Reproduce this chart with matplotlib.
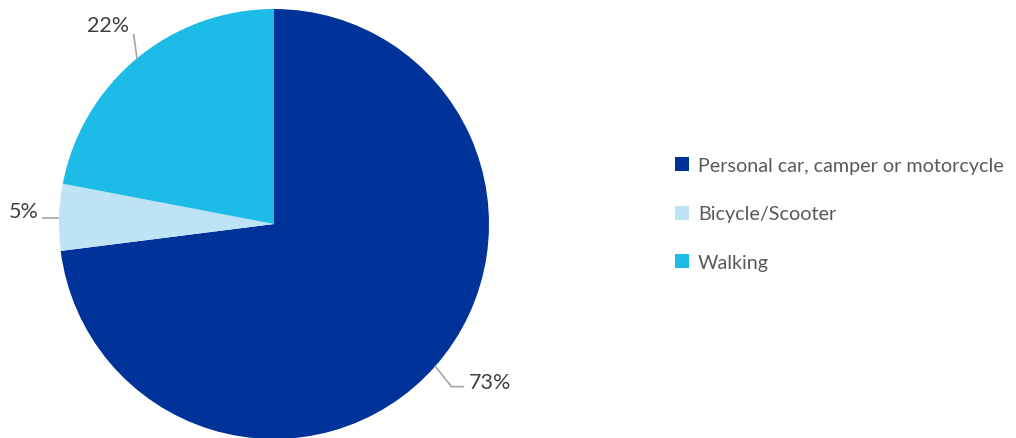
import numpy as np
import matplotlib
matplotlib.use("Agg")
import matplotlib.pyplot as plt
from matplotlib.patches import Rectangle

categories = ["Personal car, camper or motorcycle", "Bicycle/Scooter", "Walking"]
values = [73, 5, 22]
labels = ["73%", "5%", "22%"]
colors = ["#003399", "#BDE3F5", "#1DBBE8"]

plt.rcParams['font.family'] = ['Lato', 'DejaVu Sans']

W, H = 1016, 439
fig = plt.figure(figsize=(W / 100, H / 100), dpi=100)
cx, cy, R = 274, 225, 215
ax = fig.add_axes([(cx - R) / W, (H - cy - R) / H, 2 * R / W, 2 * R / H])
ax.set_aspect('equal')
ax.axis('off')

wedges, _ = ax.pie(values, colors=colors, startangle=90, counterclock=False,
                   radius=1, center=(0, 0), frame=False,
                   wedgeprops=dict(linewidth=0))
ax.set_xlim(-1, 1)
ax.set_ylim(-1, 1)

lead = "#A6A6A6"
tcol = "#404040"
fs = 15.5
# 73% label
w = wedges[0]
a = np.deg2rad((w.theta1 + w.theta2) / 2)
p0 = np.array([np.cos(a), np.sin(a)]) * 1.0
p1 = p0 + np.array([0.075, -0.095])
p2 = p1 + np.array([0.055, 0])
ax.plot([p0[0], p1[0], p2[0]], [p0[1], p1[1], p2[1]], color=lead, lw=1.2, clip_on=False)
ax.text(p2[0] + 0.025, p2[1] + 0.02, labels[0], ha='left', va='center', fontsize=fs, color=tcol)

# 5% label
p0 = np.array([-1.005, 0.03])
p1 = p0 + np.array([-0.07, 0])
ax.plot([p0[0], p1[0]], [p0[1], p1[1]], color=lead, lw=1.2, clip_on=False)
ax.text(p1[0] - 0.02, p1[1] + 0.03, labels[1], ha='right', va='center', fontsize=fs, color=tcol)

# 22% label
w = wedges[2]
a = np.deg2rad((w.theta1 + w.theta2) / 2)
p0 = np.array([np.cos(a), np.sin(a)]) * 1.0
p1 = p0 + np.array([-0.015, 0.11])
ax.plot([p0[0], p1[0]], [p0[1], p1[1]], color=lead, lw=1.2, clip_on=False)
ax.text(p1[0] - 0.02, p1[1] + 0.045, labels[2], ha='right', va='center', fontsize=fs, color=tcol)

# legend
handles = [Rectangle((0, 0), 1, 1, facecolor=c, edgecolor='none') for c in colors]
leg = fig.legend(handles, categories, loc='center left',
                 bbox_to_anchor=(675 / W, (H - 215) / H), frameon=False,
                 fontsize=14.2, labelcolor="#595959", handlelength=0.72,
                 handleheight=0.72, handletextpad=0.45, labelspacing=1.6,
                 borderaxespad=0, borderpad=0)

fig.savefig("out.png", dpi=100)
